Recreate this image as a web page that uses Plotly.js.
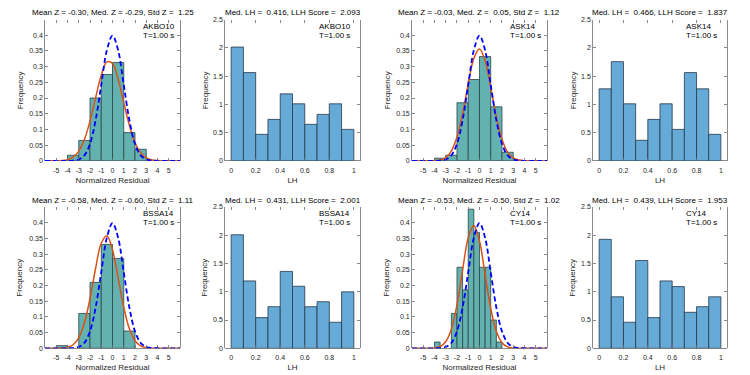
<!DOCTYPE html>
<html><head><meta charset="utf-8">
<script src="https://cdn.plot.ly/plotly-3.0.1.min.js"></script>
<style>html,body{margin:0;padding:0;background:#fff}#chart{width:750px;height:375px}</style>
</head><body><div id="chart"></div>
<script>
// ---------------- data ----------------
const models = ["AKBO10", "ASK14", "BSSA14", "CY14"];
const periodLabel = "T=1.00 s";

const zTitles = [
  "Mean Z = -0.30, Med. Z = -0.29, Std Z =\u00a0 1.25",
  "Mean Z = -0.03, Med. Z =\u00a0 0.05, Std Z =\u00a0 1.12",
  "Mean Z = -0.58, Med. Z = -0.60, Std Z =\u00a0 1.11",
  "Mean Z = -0.53, Med. Z = -0.50, Std Z =\u00a0 1.02"
];
const lhTitles = [
  "Med. LH =\u00a0 0.416, LLH Score =\u00a0 2.093",
  "Med. LH =\u00a0 0.466, LLH Score =\u00a0 1.837",
  "Med. LH =\u00a0 0.431, LLH Score =\u00a0 2.001",
  "Med. LH =\u00a0 0.439, LLH Score =\u00a0 1.953"
];

// normalized residual histograms (left bin edge, density)
const resLeftAKBO10 = [-4, -3, -2, -1, 0, 1, 2];
const resFreqAKBO10 = [0.018, 0.065, 0.200, 0.275, 0.313, 0.090, 0.037];
const resWidthAKBO10 = 1;
const resLeftASK14 = [-4, -3, -2, -1, 0, 1, 2];
const resFreqASK14 = [0.0085, 0.018, 0.185, 0.259, 0.332, 0.172, 0.0275];
const resWidthASK14 = 1;
const resLeftBSSA14 = [-5, -3, -2, -1, 0, 1];
const resFreqBSSA14 = [0.0085, 0.111, 0.210, 0.331, 0.286, 0.055];
const resWidthBSSA14 = 1;
const resLeftCY14 = [-4, -2.5, -2, -1.5, -1, -0.5, 0, 0.5, 1, 1.5];
const resFreqCY14 = [0.020, 0.111, 0.258, 0.186, 0.443, 0.369, 0.258, 0.258, 0.090, 0.020];
const resWidthCY14 = 0.5;

// curves (x sample points, standard normal, fitted normal per model)
const curveX = [-6, -5.5, -5, -4.5, -4, -3.5, -3, -2.5, -2, -1.5, -1, -0.5, 0, 0.5, 1, 1.5, 2, 2.5, 3, 3.5, 4, 4.5, 5, 5.5, 6];
const stdNormal = [0, 0, 0, 0.00002, 0.00013, 0.00087, 0.00443, 0.01753, 0.05399, 0.12952, 0.24197, 0.35207, 0.39894, 0.35207, 0.24197, 0.12952, 0.05399, 0.01753, 0.00443, 0.00087, 0.00013, 0.00002, 0, 0, 0];
const fitAKBO10 = [0, 0.00006, 0.00027, 0.00113, 0.0040, 0.0120, 0.0310, 0.0678, 0.1266, 0.2013, 0.2728, 0.3150, 0.3100, 0.2600, 0.1858, 0.1132, 0.0587, 0.0260, 0.0098, 0.0031, 0.0009, 0.0002, 0.00005, 0, 0];
const fitASK14 = [0, 0, 0.00002, 0.00012, 0.00067, 0.00293, 0.0106, 0.0313, 0.0758, 0.1504, 0.2448, 0.3262, 0.3561, 0.3185, 0.2333, 0.1401, 0.0689, 0.0278, 0.0092, 0.00248, 0.00055, 0.0001, 0.00002, 0, 0];
const fitBSSA14 = [0, 0.00002, 0.00013, 0.0007, 0.0031, 0.0113, 0.0334, 0.0805, 0.1586, 0.2550, 0.3346, 0.3585, 0.3136, 0.2239, 0.1305, 0.0621, 0.0241, 0.0076, 0.0020, 0.0004, 0.00007, 0.00001, 0, 0, 0];
const fitCY14 = [0, 0, 0.00003, 0.0002, 0.0012, 0.0056, 0.0208, 0.0606, 0.1384, 0.2488, 0.3517, 0.3909, 0.3417, 0.2349, 0.1270, 0.0540, 0.0180, 0.0047, 0.0010, 0.00016, 0.00002, 0, 0, 0, 0];

// LH histograms
const lhLeft = [0, 0.1, 0.2, 0.3, 0.4, 0.5, 0.6, 0.7, 0.8, 0.9];
const lhWidth = 0.1;
const lhAKBO10 = [2.013, 1.561, 0.469, 0.734, 1.185, 1.009, 0.646, 0.822, 1.009, 0.557];
const lhASK14 = [1.274, 1.755, 1.009, 0.364, 0.734, 1.009, 0.557, 1.561, 1.274, 0.469];
const lhBSSA14 = [2.009, 1.192, 0.543, 0.736, 1.361, 1.098, 0.736, 0.824, 0.461, 0.999];
const lhCY14 = [1.928, 0.911, 0.461, 1.554, 0.543, 1.192, 1.092, 0.637, 0.736, 0.911];

// tick labels
const resTickVals = [-5, -4, -3, -2, -1, 0, 1, 2, 3, 4, 5];
const resTickText = ["-5", "-4", "-3", "-2", "-1", "0", "1", "2", "3", "4", "5"];
const resYTickVals = [0, 0.05, 0.1, 0.15, 0.2, 0.25, 0.3, 0.35, 0.4];
const resYTickText = ["0", "0.05", "0.1", "0.15", "0.2", "0.25", "0.3", "0.35", "0.4"];
const lhTickVals = [0, 0.2, 0.4, 0.6, 0.8, 1];
const lhTickText = ["0", "0.2", "0.4", "0.6", "0.8", "1"];
const lhYTickVals = [0, 0.5, 1, 1.5, 2, 2.5];
const lhYTickText = ["0", "0.5", "1", "1.5", "2", "2.5"];

// ---------------- build ----------------
const resData = [
  [resLeftAKBO10, resFreqAKBO10, resWidthAKBO10, fitAKBO10],
  [resLeftASK14, resFreqASK14, resWidthASK14, fitASK14],
  [resLeftBSSA14, resFreqBSSA14, resWidthBSSA14, fitBSSA14],
  [resLeftCY14, resFreqCY14, resWidthCY14, fitCY14]
];
const lhData = [lhAKBO10, lhASK14, lhBSSA14, lhCY14];

const FONT = "Liberation Sans, Arial, sans-serif";
const TEXT = "#262626";
const AXC = "#6e6e6e";

// panel geometry (paper fractions)
const colDomains = [[0.06, 0.24], [0.30, 0.48], [0.5493, 0.7293], [0.7907, 0.9693]];
const rowDomains = [[0.571, 0.948], [0.0712, 0.448]];

const traces = [];
const layout = {
  width: 750, height: 375,
  margin: {l: 0, r: 0, t: 0, b: 0},
  paper_bgcolor: "#fff", plot_bgcolor: "#fff",
  showlegend: false,
  barmode: "overlay",
  font: {family: FONT, color: TEXT, size: 8},
  annotations: []
};

function axisBase() {
  return {
    ticks: "inside", ticklen: 3, tickwidth: 0.8, tickcolor: AXC,
    mirror: "ticks", showgrid: false, fixedrange: true,
    tickfont: {family: FONT, size: 7, color: TEXT}
  };
}

let idx = 0;
for (let m = 0; m < 4; m++) {
  const row = m < 2 ? 0 : 1;
  const colRes = (m % 2) * 2;
  const colLh = colRes + 1;
  const panels = [
    {kind: "res", col: colRes},
    {kind: "lh", col: colLh}
  ];
  for (const p of panels) {
    idx++;
    const xa = idx === 1 ? "x" : "x" + idx;
    const ya = idx === 1 ? "y" : "y" + idx;
    const xName = idx === 1 ? "xaxis" : "xaxis" + idx;
    const yName = idx === 1 ? "yaxis" : "yaxis" + idx;
    const xAxis = Object.assign(axisBase(), {
      domain: colDomains[p.col], anchor: ya, showline: false, zeroline: false,
      ticklabelstandoff: 4
    });
    const yAxis = Object.assign(axisBase(), {
      domain: rowDomains[row], anchor: xa, showline: true, linecolor: AXC, linewidth: 0.8,
      zeroline: true, zerolinecolor: AXC, zerolinewidth: 0.8
    });
    if (p.kind === "res") {
      const [left, freq, bw, fit] = resData[m];
      traces.push({
        type: "bar", x: left, y: freq, width: bw, offset: 0, xaxis: xa, yaxis: ya,
        marker: {color: "#63b2b0", line: {color: "#2b4448", width: 0.8}}, hoverinfo: "skip"
      });
      traces.push({
        type: "scatter", mode: "lines", x: curveX, y: fit, xaxis: xa, yaxis: ya,
        line: {color: "#D95319", width: 1.5, shape: "spline"}, hoverinfo: "skip"
      });
      traces.push({
        type: "scatter", mode: "lines", x: curveX, y: stdNormal, xaxis: xa, yaxis: ya,
        line: {color: "#0000FF", width: 1.8, dash: "5px,3px", shape: "spline"}, hoverinfo: "skip"
      });
      Object.assign(xAxis, {
        range: [-6, 6], tickvals: resTickVals, ticktext: resTickText,
        title: {text: "Normalized Residual", font: {family: FONT, size: 8, color: TEXT}, standoff: 4}
      });
      Object.assign(yAxis, {range: [0, 0.45], tickvals: resYTickVals, ticktext: resYTickText});
      layout.annotations.push({
        xref: xa + " domain", yref: ya + " domain", x: 0.5, y: 1, yshift: 7,
        xanchor: "center", yanchor: "middle", showarrow: false,
        text: zTitles[m], font: {family: FONT, size: 8, color: "#000"}
      });
    } else {
      traces.push({
        type: "bar", x: lhLeft, y: lhData[m], width: lhWidth, offset: 0, xaxis: xa, yaxis: ya,
        marker: {color: "#66aad7", line: {color: "#26384a", width: 0.8}}, hoverinfo: "skip"
      });
      Object.assign(xAxis, {
        range: [-0.05, 1.05], tickvals: lhTickVals, ticktext: lhTickText,
        title: {text: "LH", font: {family: FONT, size: 8, color: TEXT}, standoff: 4}
      });
      Object.assign(yAxis, {range: [0, 2.5], tickvals: lhYTickVals, ticktext: lhYTickText});
      layout.annotations.push({
        xref: xa + " domain", yref: ya + " domain", x: 0.5, y: 1, yshift: 7,
        xanchor: "center", yanchor: "middle", showarrow: false,
        text: lhTitles[m], font: {family: FONT, size: 8, color: "#000"}
      });
    }
    // y-axis title placed as rotated text left of the axis
    layout.annotations.push({
      xref: xa + " domain", yref: ya + " domain", x: 0, y: 0.5,
      xshift: p.kind === "res" ? -25 : -20, xanchor: "center", yanchor: "middle",
      textangle: -90, showarrow: false,
      text: "Frequency", font: {family: FONT, size: 8, color: TEXT}
    });
    const labelX = p.kind === "res" ? 0.71 : 0.68;
    layout.annotations.push({
      xref: xa + " domain", yref: ya + " domain", x: labelX, y: 1, yshift: -6.5,
      xanchor: "left", yanchor: "middle", showarrow: false,
      text: models[m], font: {family: FONT, size: 8, color: "#000"}
    });
    layout.annotations.push({
      xref: xa + " domain", yref: ya + " domain", x: labelX, y: 1, yshift: -15.5,
      xanchor: "left", yanchor: "middle", showarrow: false,
      text: periodLabel, font: {family: FONT, size: 8, color: "#000"}
    });
    layout[xName] = xAxis;
    layout[yName] = yAxis;
  }
}

Plotly.newPlot("chart", traces, layout, {staticPlot: true, displayModeBar: false});
</script>
</body></html>
